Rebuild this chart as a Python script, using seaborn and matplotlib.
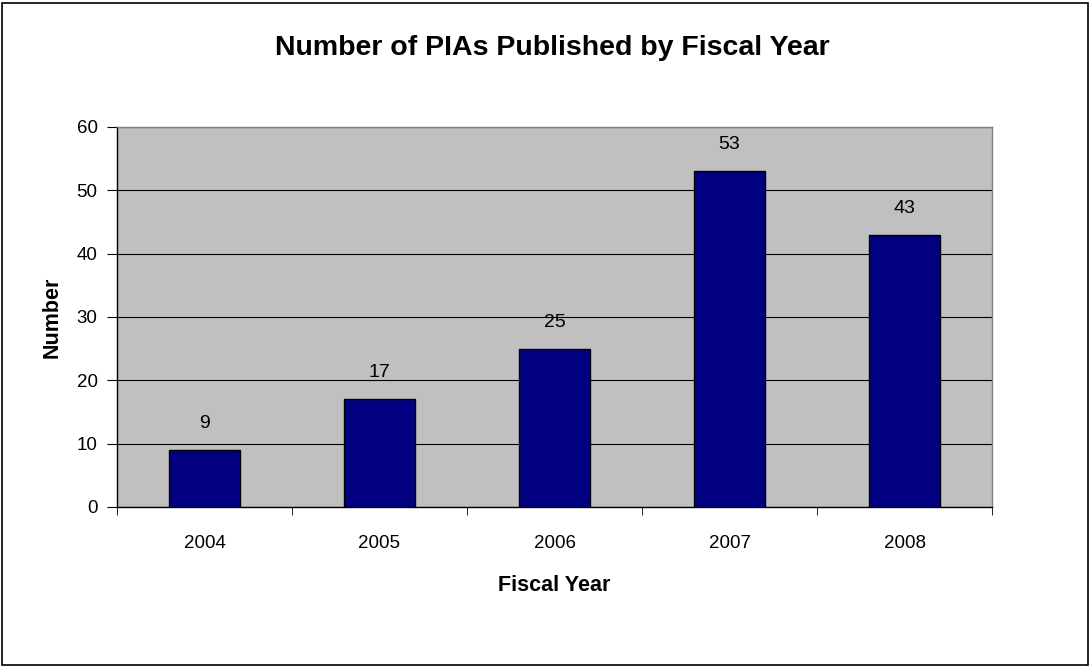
import matplotlib
matplotlib.use("Agg")
import matplotlib.pyplot as plt
import numpy as np
import pandas as pd
import seaborn as sns
from matplotlib.patches import Rectangle

# Datos
years = ["2004", "2005", "2006", "2007", "2008"]
counts = [9, 17, 25, 53, 43]

df = pd.DataFrame({"Fiscal Year": years, "Number": counts})

sns.set_style("white")
plt.rcParams["font.family"] = ["Liberation Sans", "DejaVu Sans"]
plt.rcParams["text.color"] = "black"
plt.rcParams["axes.labelcolor"] = "black"
plt.rcParams["xtick.color"] = "black"
plt.rcParams["ytick.color"] = "black"

fig = plt.figure(figsize=(10.91, 6.67), dpi=100)
ax = fig.add_axes([0.1072, 0.2399, 0.8021, 0.5697])
ax.set_facecolor("#C0C0C0")

sns.barplot(data=df, x="Fiscal Year", y="Number", color="#000080",
            saturation=1, width=0.41, edgecolor="black", linewidth=1, ax=ax, zorder=3)

# Etiquetas de valores
for i, v in enumerate(counts):
    ax.annotate(str(v), (i, v), xytext=(0, 19), textcoords="offset points",
                ha="center", va="center", fontsize=14)

ax.set_ylim(0, 60)
ax.set_yticks(np.arange(0, 61, 10))
ax.set_xlim(-0.5, 4.5)
ax.yaxis.grid(True, color="black", linewidth=0.8, zorder=0)
ax.set_axisbelow(True)

# Marcas del eje x en los límites de categoría
ax.set_xticks(np.arange(-0.5, 5, 1), minor=True)
ax.tick_params(axis="x", which="major", length=0, labelsize=13.5, pad=20)
ax.tick_params(axis="x", which="minor", length=6, color="black", direction="out", bottom=True)
ax.tick_params(axis="y", length=7, color="black", direction="out", left=True,
               labelsize=13.5, pad=7)

for s in ax.spines.values():
    s.set_color("#808080")
    s.set_linewidth(1)
ax.spines["bottom"].set_color("black")
ax.spines["left"].set_color("black")

ax.set_xlabel("Fiscal Year", fontsize=15.5, fontweight="bold", labelpad=17)
ax.set_ylabel("Number", fontsize=15.5, fontweight="bold", labelpad=10)
fig.text(0.506, 0.928, "Number of PIAs Published by Fiscal Year",
         ha="center", va="center", fontsize=20.5, fontweight="bold")

# Borde exterior
fig.patches.append(Rectangle((0.002, 0.003), 0.995, 0.993, transform=fig.transFigure,
                             fill=False, edgecolor="black", linewidth=1.2))

fig.savefig("out.png", dpi=100)
